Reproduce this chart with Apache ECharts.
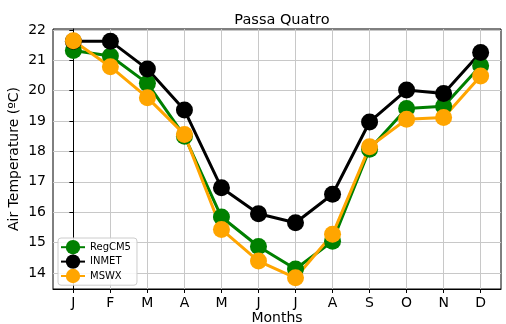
<!DOCTYPE html>
<html><head><meta charset="utf-8">
<script src="https://cdn.jsdelivr.net/npm/echarts@6/dist/echarts.min.js"></script>
<style>html,body{margin:0;padding:0;background:#fff}#c{width:506px;height:324px}</style>
</head><body><div id="c"></div>
<script>
const months = ['J','F','M','A','M','J','J','A','S','O','N','D'];
const yTicks = [14,15,16,17,18,19,20,21,22];
const regcm5 = [21.32,21.14,20.24,18.50,15.84,14.87,14.13,15.04,18.07,19.41,19.49,20.82];
const inmet  = [21.63,21.63,20.71,19.36,16.80,15.95,15.65,16.59,18.97,20.02,19.91,21.26];
const mswx   = [21.64,20.79,19.77,18.56,15.43,14.39,13.84,15.27,18.15,19.06,19.12,20.48];

const font = 'DejaVu Sans';
const pts = a => a.map((v,i)=>[i,v]);
const xIdx = months.map((m,i)=>i);
const mk = (name,data,color)=>({
  name, type:'line', data:pts(data), symbol:'circle', symbolSize:17,
  lineStyle:{color, width:3}, itemStyle:{color}, z:2
});
const chart = echarts.init(document.getElementById('c'));
chart.setOption({
  animation:false,
  title:{text:'Passa Quatro', left:277, top:8, textAlign:'center',
    textStyle:{fontFamily:font, fontSize:14.5, fontWeight:'normal', color:'#000'}},
  grid:{left:53, right:5, top:29, bottom:35, containLabel:false, outerBoundsMode:'none',
    show:true, borderColor:'#000', borderWidth:1, backgroundColor:'transparent'},
  legend:{orient:'vertical', left:58, top:238, data:['RegCM5','INMET','MSWX'],
    backgroundColor:'rgba(255,255,255,0.85)', borderColor:'#ccc', borderWidth:1, borderRadius:3,
    padding:[2,6,2,2], itemGap:0, itemWidth:24, itemHeight:18,
    textStyle:{fontFamily:font, fontSize:10, color:'#000'}},
  xAxis:{type:'value', min:-0.55, max:11.55,
    name:'Months', nameLocation:'middle', nameGap:22, nameMoveOverlap:false,
    nameTextStyle:{fontFamily:font, fontSize:14, color:'#000'},
    axisLine:{show:true, lineStyle:{color:'#000'}},
    axisTick:{show:true, length:4, lineStyle:{color:'#000'}, customValues:xIdx},
    axisLabel:{customValues:xIdx, formatter:v=>months[Math.round(v)], fontFamily:font, fontSize:14, color:'#000', margin:7},
    splitLine:{show:true, lineStyle:{color:'#c8c8c8', width:1}}},
  yAxis:{type:'value', min:13.47, max:22.03,
    name:'Air Temperature (ºC)', nameLocation:'middle', nameGap:32, nameMoveOverlap:false,
    nameTextStyle:{fontFamily:font, fontSize:14, color:'#000'},
    axisLine:{show:true, lineStyle:{color:'#000'}},
    axisTick:{show:true, length:4, lineStyle:{color:'#000'}, customValues:yTicks},
    axisLabel:{customValues:yTicks, fontFamily:font, fontSize:14, color:'#000', margin:7},
    splitLine:{show:true, lineStyle:{color:'#c8c8c8', width:1}}},
  series:[mk('RegCM5',regcm5,'#008000'), mk('INMET',inmet,'#000000'), mk('MSWX',mswx,'#FFA500')]
});
</script></body></html>
